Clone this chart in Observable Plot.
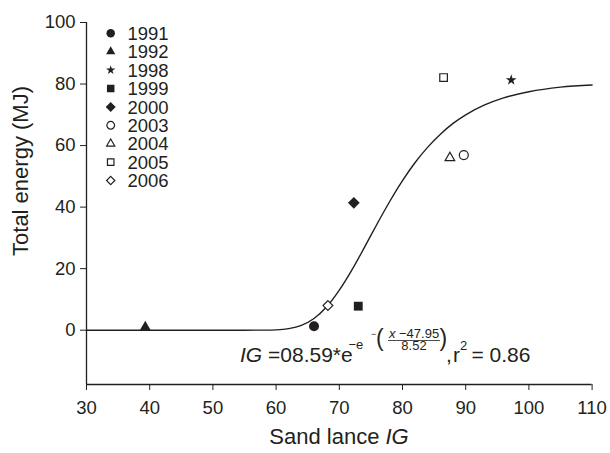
<!DOCTYPE html>
<html><head><meta charset="utf-8">
<script src="https://cdn.jsdelivr.net/npm/d3@7"></script>
<script src="https://cdn.jsdelivr.net/npm/@observablehq/plot@0.6"></script>
<style>
html,body{margin:0;padding:0;background:#fff;}
#chart{position:relative;width:610px;height:453px;}
</style></head><body><div id="chart"></div>
<script>
// ---- data ----
const years = ["1991","1992","1998","1999","2000","2003","2004","2005","2006"];
const sandLanceIG = [66.0, 39.3, 97.2, 73.0, 72.3, 89.7, 87.5, 86.5, 68.2];
const totalEnergy = [1.3, 1.0, 81.3, 7.8, 41.4, 56.9, 56.0, 82.1, 8.0];
const markerShape = ["circle","triangle","star","square","diamond","circle","triangle","square","diamond"];
const markerFilled = [true, true, true, true, true, false, false, false, false];

// fitted curve, points
const fitX = [30, 50, 55, 58, 60, 62, 64, 66, 68, 70, 72, 74, 76, 78, 80, 82, 84, 86, 88, 90, 93, 96, 100, 105, 110];
const fitY = [0, 0, 0, 0.02, 0.11, 0.5, 1.57, 3.8, 7.6, 13.0, 19.6, 27.0, 34.6, 41.9, 48.6, 54.5, 59.5, 63.7, 67.2, 70.0, 73.2, 75.5, 77.5, 79.0, 79.7];

const xTicks = [30, 40, 50, 60, 70, 80, 90, 100, 110];
const yTicks = [0, 20, 40, 60, 80, 100];
const xDomain = [30, 110];
const yDomain = [-17.65, 100];

const xTitle = "Sand lance ";
const xTitleItalic = "IG";
const yTitle = "Total energy (MJ)";

// ---- styles ----
const INK = "#231f20";
const FONT = "'Liberation Sans', Arial, Helvetica, sans-serif";
const shapeStyle = {
  circle:   {symbol: "circle",    d3s: d3.symbolCircle,    rFilled: 5.0, rOpen: 4.5},
  triangle: {symbol: "triangle2", d3s: d3.symbolTriangle2, rFilled: 5.2, rOpen: 4.6},
  star:     {symbol: "star",      d3s: d3.symbolStar,      rFilled: 3.4, rOpen: 3.2},
  square:   {symbol: "square",    d3s: d3.symbolSquare,    rFilled: 5.0, rOpen: 4.3},
  diamond:  {symbol: "diamond2",  d3s: d3.symbolDiamond2,  rFilled: 5.3, rOpen: 4.4}
};

const pts = years.map((yr, i) => ({year: yr, x: sandLanceIG[i], y: totalEnergy[i], shape: markerShape[i], filled: markerFilled[i]}));
const fit = fitX.map((x, i) => ({x, y: fitY[i]}));

const dotMarks = pts.map(p => {
  const s = shapeStyle[p.shape];
  return Plot.dot([p], {
    x: "x", y: "y", symbol: s.symbol,
    r: p.filled ? s.rFilled : s.rOpen,
    fill: p.filled ? INK : "white",
    stroke: p.filled ? "none" : INK,
    strokeWidth: 1.2
  });
});

const chart = Plot.plot({
  width: 610, height: 453,
  marginLeft: 86, marginRight: 18.4, marginTop: 22, marginBottom: 69,
  style: {fontFamily: FONT, fontSize: "18.5px", color: INK, background: "white"},
  x: {domain: xDomain, ticks: xTicks, tickSize: 6, tickPadding: 10, label: null},
  y: {domain: yDomain, ticks: yTicks, tickSize: 6, tickPadding: 5, label: null},
  marks: [
    Plot.ruleX([xDomain[0]], {stroke: INK, strokeWidth: 1.3}),
    Plot.ruleY([yDomain[0]], {stroke: INK, strokeWidth: 1.3}),
    Plot.line(fit, {x: "x", y: "y", curve: "monotone-x", stroke: INK, strokeWidth: 1.4}),
    ...dotMarks
  ]
});
document.getElementById("chart").appendChild(chart);

const svg = d3.select(chart);
const ann = svg.append("g").attr("font-family", FONT).attr("fill", INK).attr("text-anchor", "start");

// axis titles
ann.append("text").attr("transform", "translate(28,171) rotate(-90)")
  .attr("text-anchor", "middle").attr("font-size", 22).text(yTitle);
const xt = ann.append("text").attr("x", 339).attr("y", 444)
  .attr("text-anchor", "middle").attr("font-size", 22);
xt.append("tspan").text(xTitle);
xt.append("tspan").attr("font-style", "italic").text(xTitleItalic);

// legend
const lg = ann.append("g");
pts.forEach((p, i) => {
  const s = shapeStyle[p.shape];
  const r = (p.filled ? s.rFilled : s.rOpen) * 0.85;
  const cy = 33.3 + i * 18.4;
  lg.append("path")
    .attr("d", d3.symbol(s.d3s, Math.PI * r * r)())
    .attr("transform", `translate(110.7,${cy})`)
    .attr("fill", p.filled ? INK : "white")
    .attr("stroke", p.filled ? "none" : INK)
    .attr("stroke-width", 1.2);
  lg.append("text").attr("x", 127.5).attr("y", cy + 6.6).attr("font-size", 18.5).text(p.year);
});

// equation
const B = 362;
const eq = ann.append("g");
const t1 = eq.append("text").attr("x", 240).attr("y", B).attr("font-size", 21);
t1.append("tspan").attr("font-style", "italic").text("IG");
t1.append("tspan").text(" =08.59*e");
eq.append("text").attr("x", 348.5).attr("y", B - 13).attr("font-size", 13).text("\u2212e");
eq.append("text").attr("x", 371).attr("y", B - 25).attr("font-size", 9).text("\u2212");
eq.append("text").attr("x", 376).attr("y", B - 16).attr("font-size", 23).attr("font-weight", 300).text("(");
const num = eq.append("text").attr("x", 414).attr("y", B - 24.5).attr("font-size", 13).attr("text-anchor", "middle");
num.append("tspan").attr("font-style", "italic").text("x");
num.append("tspan").text(" \u221247.95");
eq.append("line").attr("x1", 388).attr("x2", 440).attr("y1", B - 21.5).attr("y2", B - 21.5)
  .attr("stroke", INK).attr("stroke-width", 0.8);
eq.append("text").attr("x", 414).attr("y", B - 12.5).attr("font-size", 13).attr("text-anchor", "middle").text("8.52");
eq.append("text").attr("x", 439.5).attr("y", B - 16).attr("font-size", 23).attr("font-weight", 300).text(")");
eq.append("text").attr("x", 446).attr("y", B).attr("font-size", 21).text(",");
eq.append("text").attr("x", 453).attr("y", B).attr("font-size", 21).text("r");
eq.append("text").attr("x", 460).attr("y", B - 12).attr("font-size", 13).text("2");
eq.append("text").attr("x", 471.5).attr("y", B).attr("font-size", 21).text("= 0.86");
</script>
</body></html>
